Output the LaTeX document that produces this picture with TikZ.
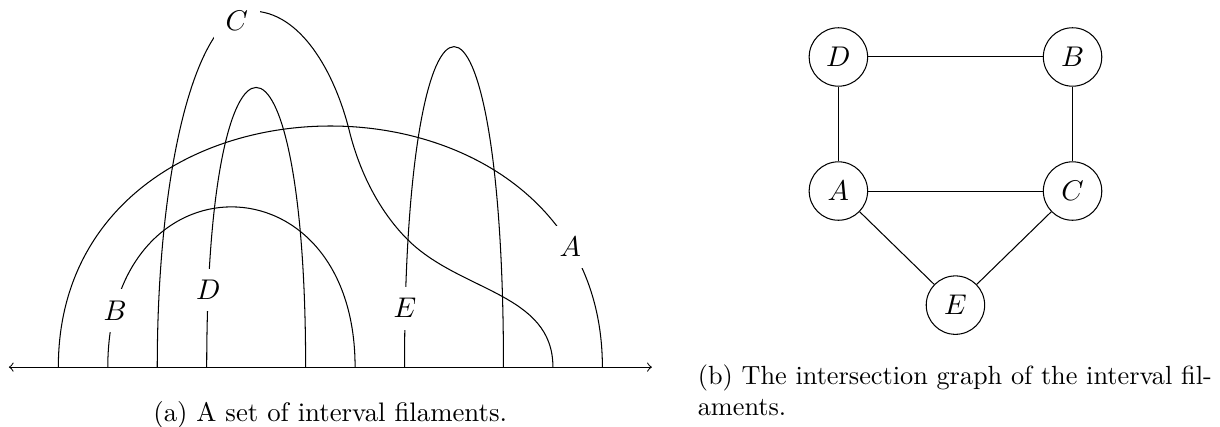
\documentclass[tikz,border=0pt]{standalone}

\begin{document}
\begin{tikzpicture}[
  every node/.style = {font=\fontsize{11}{13}\selectfont},
  lbl/.style = {fill=white, inner sep=4.5pt},
  vtx/.style = {draw, circle, minimum size=0.79cm, inner sep=0pt},
]
\useasboundingbox (0,0) rectangle (16.49,5.76);

% ── (a) Filaments standing on the line ─────────────────────────────────────
\begin{scope}[shift={(0.120,0.798)}, x=0.6685cm, y=0.6685cm]
\draw[<->] (0,0) -- (13,0);

% A
\draw (1,0) .. controls (1,6.5) and (12,6.5) .. (12,0);
% B
\draw (2,0) .. controls (2,4.32) and (7,4.32) .. (7,0);
% C
\draw (3,0) .. controls (3,4) and (3.78,7.2) .. (4.9,7.2)
  .. controls (5.9,7.2) and (6.59,5.95) .. (6.88,4.79)
  .. controls (7.12,3.82) and (7.565,3.075) .. (8.06,2.58)
  .. controls (9.12,1.52) and (11,1.5) .. (11,0);
% D
\draw (4,0) .. controls (4,7.54) and (6,7.54) .. (6,0);
% E
\draw (8,0) .. controls (8,8.64) and (10,8.64) .. (10,0);

% labels
\node[lbl] (labA) at (11.35,2.43) {$A$};
\node[lbl] (labB) at (2.15,1.14)  {$B$};
\node[lbl] (labC) at (4.61,7.00)  {$C$};
\node[lbl] (labD) at (4.03,1.56)  {$D$};
\node[lbl] (labE) at (8.01,1.19)  {$E$};
\end{scope}

\node[font=\fontsize{10.3}{12}\selectfont] (capA) at (4.463,0.150)
  {(a) A set of interval filaments.};

% ── (b) Intersection graph ─────────────────────────────────────────────────
\node[vtx] (D) at (11.332,4.990) {$D$};
\node[vtx] (B) at (14.497,4.990) {$B$};
\node[vtx] (A) at (11.332,3.178) {$A$};
\node[vtx] (C) at (14.497,3.178) {$C$};
\node[vtx] (E) at (12.914,1.636) {$E$};

\draw (D) -- (B);
\draw (D) -- (A);
\draw (B) -- (C);
\draw (A) -- (C);
\draw (A) -- (E);
\draw (C) -- (E);

\node[anchor=north west, align=left, inner sep=0pt,
      font=\fontsize{10.1}{12.2}\selectfont] (capB) at (9.425,0.840)
  {(b) The intersection graph of the interval fil-\\aments.};

\end{tikzpicture}
\end{document}
